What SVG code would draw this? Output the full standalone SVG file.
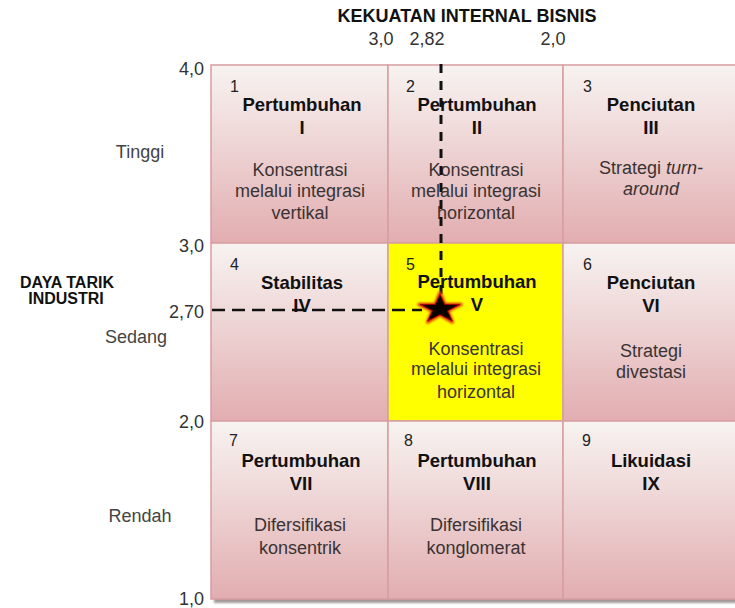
<svg xmlns="http://www.w3.org/2000/svg" width="735" height="608" viewBox="0 0 735 608">
<defs>
<linearGradient id="cellg" x1="0" y1="0" x2="0" y2="1">
<stop offset="0" stop-color="#f7f3f1"/>
<stop offset="0.4" stop-color="#efd8d8"/>
<stop offset="1" stop-color="#e2adb0"/>
</linearGradient>
<filter id="blur" x="-5%" y="-5%" width="110%" height="110%"><feGaussianBlur stdDeviation="1.2"/></filter>
<filter id="glow" x="-50%" y="-50%" width="200%" height="200%"><feGaussianBlur stdDeviation="1"/></filter>
<style>
text{font-family:"Liberation Sans",Arial,sans-serif;}
.cell{fill:url(#cellg);stroke:#d79da0;stroke-width:1.5;}
.yel{fill:#ffff00;stroke:#d79da0;stroke-width:1.5;}
.num{font-size:16px;fill:#222;}
.ttl{font-size:18.5px;font-weight:bold;fill:#111;text-anchor:middle;}
.dsc{font-size:18px;fill:#3a3333;text-anchor:middle;}
.ax{font-size:18px;fill:#333;text-anchor:end;}
.lvl{font-size:18px;fill:#444;text-anchor:middle;}
.hdr{font-size:18px;font-weight:bold;fill:#111;text-anchor:middle;}
.yl{font-size:16px;font-weight:bold;fill:#111;text-anchor:middle;}
.top{font-size:18px;fill:#333;text-anchor:middle;}
.dash{fill:none;stroke:#111;}
</style>
</defs>
<rect width="735" height="608" fill="#ffffff"/>

<g id="axes">
<text class="hdr" x="467" y="22">KEKUATAN INTERNAL BISNIS</text>
<text class="top" x="381" y="45">3,0</text>
<text class="top" x="427" y="45">2,82</text>
<text class="top" x="553" y="45">2,0</text>
<text class="ax" x="204" y="75">4,0</text>
<text class="ax" x="204" y="252">3,0</text>
<text class="ax" x="204" y="318">2,70</text>
<text class="ax" x="204" y="428">2,0</text>
<text class="ax" x="204" y="605">1,0</text>
<text class="lvl" x="140" y="158">Tinggi</text>
<text class="lvl" x="136" y="343">Sedang</text>
<text class="lvl" x="140" y="522">Rendah</text>
<text class="yl" x="67" y="288">DAYA TARIK</text>
<text class="yl" x="66" y="304">INDUSTRI</text>
</g>

<rect x="214" y="69" width="530" height="534" fill="#a49a9a" filter="url(#blur)"/>

<g id="cell1">
<rect class="cell" x="211" y="65" width="177" height="178"/>
<text class="num" x="230" y="92">1</text>
<text class="ttl" x="302" y="111">Pertumbuhan</text>
<text class="ttl" x="302" y="134">I</text>
<text class="dsc" x="300" y="176">Konsentrasi</text>
<text class="dsc" x="300" y="197">melalui integrasi</text>
<text class="dsc" x="300" y="219">vertikal</text>
</g>
<g id="cell2">
<rect class="cell" x="388" y="65" width="175" height="178"/>
<text class="num" x="406" y="92">2</text>
<text class="ttl" x="477" y="111">Pertumbuhan</text>
<text class="ttl" x="477" y="134">II</text>
<text class="dsc" x="476" y="176">Konsentrasi</text>
<text class="dsc" x="476" y="197">melalui integrasi</text>
<text class="dsc" x="476" y="219">horizontal</text>
</g>
<g id="cell3">
<rect class="cell" x="563" y="65" width="177" height="178"/>
<text class="num" x="583" y="92">3</text>
<text class="ttl" x="651" y="111">Penciutan</text>
<text class="ttl" x="651" y="134">III</text>
<text class="dsc" x="651" y="174">Strategi <tspan font-style="italic">turn-</tspan></text>
<text class="dsc" x="651" y="195" font-style="italic">around</text>
</g>

<g id="cell4">
<rect class="cell" x="211" y="243" width="177" height="178"/>
<text class="num" x="230" y="270">4</text>
<text class="ttl" x="302" y="289">Stabilitas</text>
<text class="ttl" x="302" y="312">IV</text>
</g>
<g id="cell5">
<rect class="yel" x="388" y="243" width="175" height="178"/>
<text class="num" x="406" y="270">5</text>
<text class="ttl" x="477" y="288">Pertumbuhan</text>
<text class="ttl" x="477" y="311">V</text>
<text class="dsc" x="476" y="355">Konsentrasi</text>
<text class="dsc" x="476" y="375">melalui integrasi</text>
<text class="dsc" x="476" y="398">horizontal</text>
</g>
<g id="cell6">
<rect class="cell" x="563" y="243" width="177" height="178"/>
<text class="num" x="583" y="270">6</text>
<text class="ttl" x="651" y="289">Penciutan</text>
<text class="ttl" x="651" y="312">VI</text>
<text class="dsc" x="651" y="357">Strategi</text>
<text class="dsc" x="651" y="378">divestasi</text>
</g>

<g id="cell7">
<rect class="cell" x="211" y="421" width="177" height="178"/>
<text class="num" x="229" y="446">7</text>
<text class="ttl" x="301" y="467">Pertumbuhan</text>
<text class="ttl" x="301" y="490">VII</text>
<text class="dsc" x="300" y="531">Difersifikasi</text>
<text class="dsc" x="300" y="554">konsentrik</text>
</g>
<g id="cell8">
<rect class="cell" x="388" y="421" width="175" height="178"/>
<text class="num" x="404" y="446">8</text>
<text class="ttl" x="477" y="467">Pertumbuhan</text>
<text class="ttl" x="477" y="490">VIII</text>
<text class="dsc" x="476" y="531">Difersifikasi</text>
<text class="dsc" x="476" y="554">konglomerat</text>
</g>
<g id="cell9">
<rect class="cell" x="563" y="421" width="177" height="178"/>
<text class="num" x="582" y="446">9</text>
<text class="ttl" x="651" y="467">Likuidasi</text>
<text class="ttl" x="651" y="490">IX</text>
</g>

<g id="connectors">
<line class="dash" x1="441" y1="64" x2="441" y2="294" stroke-width="3" stroke-dasharray="9 8"/>
<line class="dash" x1="212" y1="310" x2="422" y2="310" stroke-width="2.5" stroke-dasharray="13 7"/>
</g>

<g id="star">
<polygon points="440,293 444.7,304.4 461,304.4 447.6,310.8 452.3,322 440,314.7 427.7,322 432.4,310.8 419,304.4 435.3,304.4" fill="#e02a10" stroke="#e04010" stroke-width="3.5" stroke-linejoin="round" filter="url(#glow)"/>
<polygon points="440,294 444.7,304.4 460,304.4 447.6,310.8 452.3,321 440,314.7 427.7,321 432.4,310.8 420,304.4 435.3,304.4" fill="#0a0000" stroke="#b00000" stroke-width="1" stroke-linejoin="round"/>
</g>
</svg>
